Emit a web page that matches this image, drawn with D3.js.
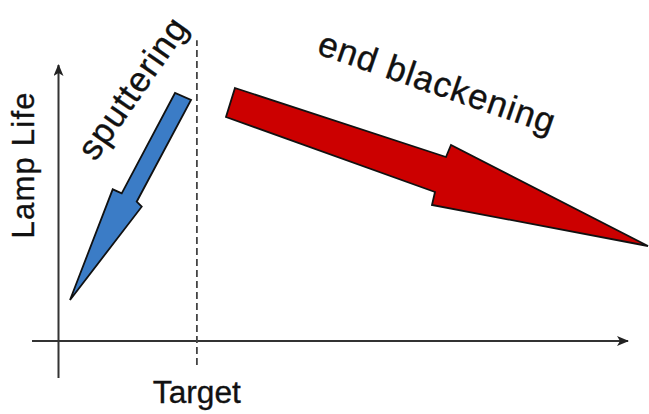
<!DOCTYPE html>
<html>
<head>
<meta charset="utf-8">
<script src="https://cdn.jsdelivr.net/npm/d3@7/dist/d3.min.js"></script>
<style>
  html, body { margin: 0; padding: 0; background: #fff; }
  svg { display: block; }
  text { font-family: "Liberation Sans", Arial, Helvetica, sans-serif; fill: #111; stroke: #111; stroke-width: 0.35px; }
</style>
</head>
<body>
<svg id="chart" width="649" height="414"></svg>
<script>
// ---- data (conceptual diagram, units 0..100 on both axes) ----
const axisLabels = ["Target", "Lamp Life"];
const targetX = 24.3;
const sputterLabel = "sputtering";
const blackenLabel = "end blackening";
// blue "sputtering" arrow outline: [x, y]
const sputterArrowX = [20.46, 11.10, 9.52, 2.02, 14.61, 13.73, 23.27];
const sputterArrowY = [89.86, 53.51, 54.96, 14.86, 48.66, 50.47, 87.32];
// red "end blackening" arrow outline: [x, y]
const blackenArrowX = [30.99, 68.04, 68.92, 103.51, 65.58, 66.11, 29.41];
const blackenArrowY = [91.67, 66.67, 71.01, 34.42, 49.28, 53.99, 81.16];
// axis extents
const xAxisExtent = [-4.65, 100];
const yAxisExtent = [-13.4, 100];
const targetLineExtent = [-8.7, 109];

// ---- layout ----
const svg = d3.select("#chart");
const x = d3.scaleLinear().domain([0, 100]).range([58.5, 628]);
const y = d3.scaleLinear().domain([0, 100]).range([341, 65]);

const line = d3.line().x(d => x(d[0])).y(d => y(d[1]));
const closed = d3.line().x(d => x(d[0])).y(d => y(d[1])).curve(d3.curveLinearClosed);

// arrowhead marker
const defs = svg.append("defs");
defs.append("marker")
  .attr("id", "ah")
  .attr("viewBox", "0 0 12 10")
  .attr("refX", 11).attr("refY", 5)
  .attr("markerWidth", 12).attr("markerHeight", 10)
  .attr("markerUnits", "userSpaceOnUse")
  .attr("orient", "auto")
  .append("path")
  .attr("d", "M0,0 L12,5 L0,10 L3,5 Z")
  .attr("fill", "#222");

// axes
svg.append("path")
  .attr("d", line([[xAxisExtent[0], 0], [xAxisExtent[1], 0]]))
  .attr("stroke", "#333").attr("stroke-width", 2).attr("fill", "none")
  .attr("marker-end", "url(#ah)");
svg.append("path")
  .attr("d", line([[0, yAxisExtent[0]], [0, yAxisExtent[1]]]))
  .attr("stroke", "#333").attr("stroke-width", 2).attr("fill", "none")
  .attr("marker-end", "url(#ah)");

// target dashed line
svg.append("path")
  .attr("d", line([[targetX, targetLineExtent[0]], [targetX, targetLineExtent[1]]]))
  .attr("stroke", "#444").attr("stroke-width", 1.8).attr("fill", "none")
  .attr("stroke-dasharray", "7,4");

// arrows
const sputterPts = sputterArrowX.map((v, i) => [v, sputterArrowY[i]]);
const blackenPts = blackenArrowX.map((v, i) => [v, blackenArrowY[i]]);

svg.append("path").attr("d", closed(sputterPts))
  .attr("fill", "#3b7cc6").attr("stroke", "#111").attr("stroke-width", 1.8)
  .attr("stroke-linejoin", "miter");
svg.append("path").attr("d", closed(blackenPts))
  .attr("fill", "#cc0000").attr("stroke", "#111").attr("stroke-width", 1.8)
  .attr("stroke-linejoin", "miter");

// labels
svg.append("text")
  .attr("x", x(targetX)).attr("y", 403)
  .attr("text-anchor", "middle")
  .attr("font-size", 31)
  .attr("textLength", 88).attr("lengthAdjust", "spacingAndGlyphs")
  .text(axisLabels[0]);

svg.append("text")
  .attr("transform", "translate(34,165.5) rotate(-90)")
  .attr("text-anchor", "middle")
  .attr("font-size", 31)
  .attr("textLength", 146).attr("lengthAdjust", "spacing")
  .text(axisLabels[1]);

svg.append("text")
  .attr("transform", "translate(132,88) rotate(-55)")
  .attr("text-anchor", "middle")
  .attr("dominant-baseline", "central")
  .attr("font-size", 35)
  .attr("textLength", 164).attr("lengthAdjust", "spacing")
  .text(sputterLabel);

svg.append("text")
  .attr("transform", "translate(437,82) rotate(19)")
  .attr("text-anchor", "middle")
  .attr("dominant-baseline", "central")
  .attr("font-size", 35)
  .attr("textLength", 248).attr("lengthAdjust", "spacing")
  .text(blackenLabel);
</script>
</body>
</html>
